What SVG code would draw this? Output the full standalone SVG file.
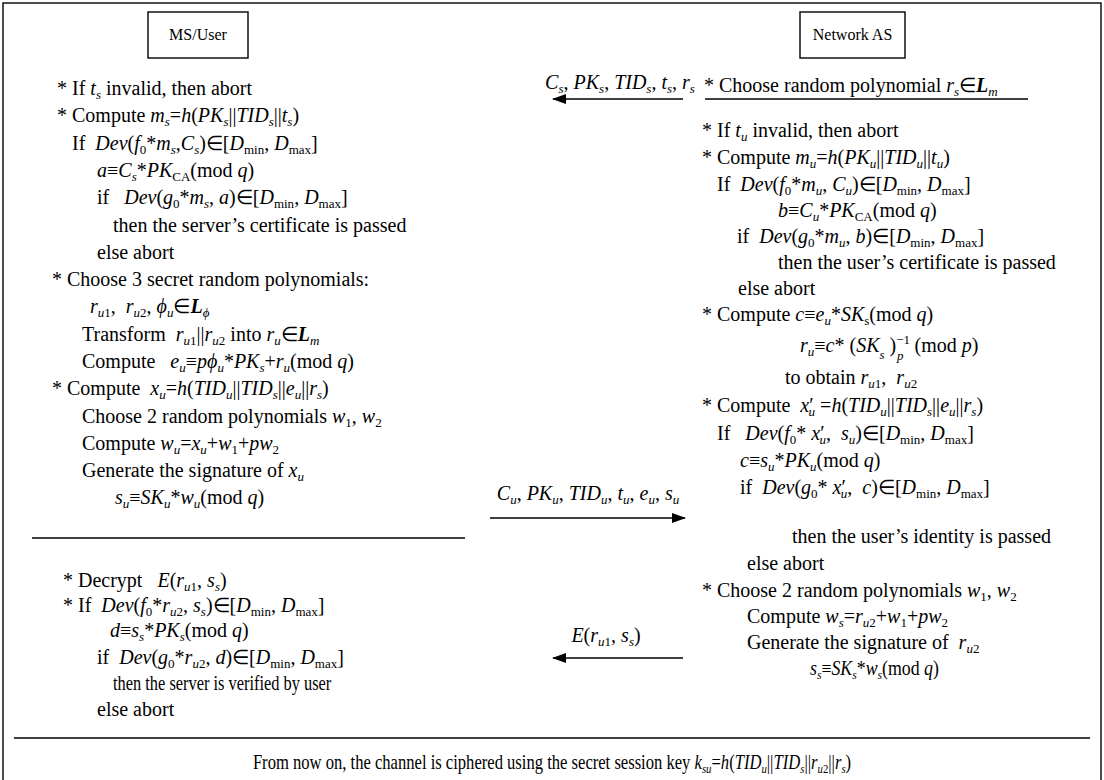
<svg xmlns="http://www.w3.org/2000/svg" width="1104" height="780" viewBox="0 0 1104 780">
<style>
text{font-family:"Liberation Serif","Times New Roman",serif;font-size:20px;fill:#000}
.h{font-size:16px}
.lb{font-size:20px}
.i{font-style:italic}
.bi{font-style:italic;font-weight:bold}
.sb{font-size:13px;baseline-shift:-4px}
.si{font-size:13px;baseline-shift:-4px;font-style:italic}
.sp{font-size:13px;baseline-shift:8px}
.ln{stroke:#000;stroke-width:1.4;fill:none}
.box{stroke:#000;stroke-width:1.4;fill:#fff}
</style>
<defs>
<marker id="ah" markerWidth="14" markerHeight="10" refX="13" refY="5" orient="auto" markerUnits="userSpaceOnUse">
<path d="M0,0 L14,5 L0,10 Z" fill="#000"/>
</marker>
</defs>
<rect x="3" y="3" width="1098" height="790" class="ln"/>

<g id="ms-user">
<rect x="148" y="12" width="100" height="46" class="box"/>
<text class="h" x="198" y="40" text-anchor="middle">MS/User</text>
</g>

<g id="network-as">
<rect x="800" y="12" width="105" height="46" class="box"/>
<text class="h" x="852.5" y="40" text-anchor="middle">Network AS</text>
</g>

<g id="user-steps">
<text x="57" y="95">* If <tspan class="i">t</tspan><tspan class="si">s</tspan> invalid, then abort</text>
<text x="57" y="122">* Compute <tspan class="i">m</tspan><tspan class="si">s</tspan>=<tspan class="i">h</tspan>(<tspan class="i">PK</tspan><tspan class="si">s</tspan>||<tspan class="i">TID</tspan><tspan class="si">s</tspan>||<tspan class="i">t</tspan><tspan class="si">s</tspan>)</text>
<text x="72" y="150">If&#160; <tspan class="i">Dev</tspan>(<tspan class="i">f</tspan><tspan class="sb">0</tspan>*<tspan class="i">m</tspan><tspan class="si">s</tspan>,<tspan class="i">C</tspan><tspan class="si">s</tspan>)∈[<tspan class="i">D</tspan><tspan class="sb">min</tspan>, <tspan class="i">D</tspan><tspan class="sb">max</tspan>]</text>
<text x="97" y="177"><tspan class="i">a</tspan>≡<tspan class="i">C</tspan><tspan class="si">s</tspan>*<tspan class="i">PK</tspan><tspan class="sb">CA</tspan>(mod <tspan class="i">q</tspan>)</text>
<text x="97" y="204">if&#160;&#160; <tspan class="i">Dev</tspan>(<tspan class="i">g</tspan><tspan class="sb">0</tspan>*<tspan class="i">m</tspan><tspan class="si">s</tspan>, <tspan class="i">a</tspan>)∈[<tspan class="i">D</tspan><tspan class="sb">min</tspan>, <tspan class="i">D</tspan><tspan class="sb">max</tspan>]</text>
<text x="113" y="232">then the server’s certificate is passed</text>
<text x="97" y="259">else abort</text>
<text x="52" y="286">* Choose 3 secret random polynomials:</text>
<text x="90" y="313"><tspan class="i">r</tspan><tspan class="sb"><tspan class="i">u</tspan>1</tspan>,&#160; <tspan class="i">r</tspan><tspan class="sb"><tspan class="i">u</tspan>2</tspan>, <tspan class="i">ϕ</tspan><tspan class="si">u</tspan>∈<tspan class="bi">L</tspan><tspan class="si">ϕ</tspan></text>
<text x="82" y="341">Transform&#160; <tspan class="i">r</tspan><tspan class="sb"><tspan class="i">u</tspan>1</tspan>||<tspan class="i">r</tspan><tspan class="sb"><tspan class="i">u</tspan>2</tspan> into <tspan class="i">r</tspan><tspan class="si">u</tspan>∈<tspan class="bi">L</tspan><tspan class="si">m</tspan></text>
<text x="82" y="368">Compute&#160;&#160; <tspan class="i">e</tspan><tspan class="si">u</tspan>≡<tspan class="i">pϕ</tspan><tspan class="si">u</tspan>*<tspan class="i">PK</tspan><tspan class="si">s</tspan>+<tspan class="i">r</tspan><tspan class="si">u</tspan>(mod <tspan class="i">q</tspan>)</text>
<text x="52" y="395">* Compute&#160; <tspan class="i">x</tspan><tspan class="si">u</tspan>=<tspan class="i">h</tspan>(<tspan class="i">TID</tspan><tspan class="si">u</tspan>||<tspan class="i">TID</tspan><tspan class="si">s</tspan>||<tspan class="i">e</tspan><tspan class="si">u</tspan>||<tspan class="i">r</tspan><tspan class="si">s</tspan>)</text>
<text x="82" y="423">Choose 2 random polynomials <tspan class="i">w</tspan><tspan class="sb">1</tspan>, <tspan class="i">w</tspan><tspan class="sb">2</tspan></text>
<text x="82" y="450">Compute <tspan class="i">w</tspan><tspan class="si">u</tspan>=<tspan class="i">x</tspan><tspan class="si">u</tspan>+<tspan class="i">w</tspan><tspan class="sb">1</tspan>+<tspan class="i">pw</tspan><tspan class="sb">2</tspan></text>
<text x="82" y="477">Generate the signature of <tspan class="i">x</tspan><tspan class="si">u</tspan></text>
<text x="115" y="504"><tspan class="i">s</tspan><tspan class="si">u</tspan>≡<tspan class="i">SK</tspan><tspan class="si">u</tspan>*<tspan class="i">w</tspan><tspan class="si">u</tspan>(mod <tspan class="i">q</tspan>)</text>
<line x1="32" y1="538" x2="465" y2="538" class="ln"/>
<text x="63" y="587">* Decrypt&#160;&#160; <tspan class="i">E</tspan>(<tspan class="i">r</tspan><tspan class="sb"><tspan class="i">u</tspan>1</tspan>, <tspan class="i">s</tspan><tspan class="si">s</tspan>)</text>
<text x="63" y="612">* If&#160; <tspan class="i">Dev</tspan>(<tspan class="i">f</tspan><tspan class="sb">0</tspan>*<tspan class="i">r</tspan><tspan class="sb"><tspan class="i">u</tspan>2</tspan>, <tspan class="i">s</tspan><tspan class="si">s</tspan>)∈[<tspan class="i">D</tspan><tspan class="sb">min</tspan>, <tspan class="i">D</tspan><tspan class="sb">max</tspan>]</text>
<text x="110" y="637"><tspan class="i">d</tspan>≡<tspan class="i">s</tspan><tspan class="si">s</tspan>*<tspan class="i">PK</tspan><tspan class="si">s</tspan>(mod <tspan class="i">q</tspan>)</text>
<text x="97" y="664">if&#160; <tspan class="i">Dev</tspan>(<tspan class="i">g</tspan><tspan class="sb">0</tspan>*<tspan class="i">r</tspan><tspan class="sb"><tspan class="i">u</tspan>2</tspan>, <tspan class="i">d</tspan>)∈[<tspan class="i">D</tspan><tspan class="sb">min</tspan>, <tspan class="i">D</tspan><tspan class="sb">max</tspan>]</text>
<text transform="translate(113,690) scale(0.82,1)">then the server is verified by user</text>
<text x="97" y="716">else abort</text>
</g>

<g id="as-steps">
<text x="704" y="92">* Choose random polynomial <tspan class="i">r</tspan><tspan class="si">s</tspan>∈<tspan class="bi">L</tspan><tspan class="si">m</tspan></text>
<line x1="705" y1="99" x2="1028" y2="99" class="ln"/>
<text x="702" y="137">* If <tspan class="i">t</tspan><tspan class="si">u</tspan> invalid, then abort</text>
<text x="702" y="164">* Compute <tspan class="i">m</tspan><tspan class="si">u</tspan>=<tspan class="i">h</tspan>(<tspan class="i">PK</tspan><tspan class="si">u</tspan>||<tspan class="i">TID</tspan><tspan class="si">u</tspan>||<tspan class="i">t</tspan><tspan class="si">u</tspan>)</text>
<text x="717" y="191">If&#160; <tspan class="i">Dev</tspan>(<tspan class="i">f</tspan><tspan class="sb">0</tspan>*<tspan class="i">m</tspan><tspan class="si">u</tspan>, <tspan class="i">C</tspan><tspan class="si">u</tspan>)∈[<tspan class="i">D</tspan><tspan class="sb">min</tspan>, <tspan class="i">D</tspan><tspan class="sb">max</tspan>]</text>
<text x="778" y="217"><tspan class="i">b</tspan>≡<tspan class="i">C</tspan><tspan class="si">u</tspan>*<tspan class="i">PK</tspan><tspan class="sb">CA</tspan>(mod <tspan class="i">q</tspan>)</text>
<text x="737" y="243">if&#160; <tspan class="i">Dev</tspan>(<tspan class="i">g</tspan><tspan class="sb">0</tspan>*<tspan class="i">m</tspan><tspan class="si">u</tspan>, <tspan class="i">b</tspan>)∈[<tspan class="i">D</tspan><tspan class="sb">min</tspan>, <tspan class="i">D</tspan><tspan class="sb">max</tspan>]</text>
<text x="778" y="269">then the user’s certificate is passed</text>
<text x="738" y="295">else abort</text>
<text x="702" y="321">* Compute <tspan class="i">c</tspan>≡<tspan class="i">e</tspan><tspan class="si">u</tspan>*<tspan class="i">SK</tspan><tspan class="sb">s</tspan>(mod <tspan class="i">q</tspan>)</text>
<text x="800" y="352"><tspan class="i">r</tspan><tspan class="si">u</tspan>≡<tspan class="i">c</tspan>* (<tspan class="i">SK</tspan><tspan class="si" dy="3">s</tspan><tspan dy="-3"> )</tspan><tspan class="sp">−1</tspan><tspan class="si" dx="-13" dy="4">p</tspan><tspan dx="6" dy="-4"> (mod </tspan><tspan class="i">p</tspan>)</text>
<text x="785" y="384">to obtain <tspan class="i">r</tspan><tspan class="sb"><tspan class="i">u</tspan>1</tspan>,&#160; <tspan class="i">r</tspan><tspan class="sb"><tspan class="i">u</tspan>2</tspan></text>
<text x="702" y="412">* Compute&#160; <tspan class="i">x</tspan>′<tspan class="si" dx="-5">u</tspan> =<tspan class="i">h</tspan>(<tspan class="i">TID</tspan><tspan class="si">u</tspan>||<tspan class="i">TID</tspan><tspan class="si">s</tspan>||<tspan class="i">e</tspan><tspan class="si">u</tspan>||<tspan class="i">r</tspan><tspan class="si">s</tspan>)</text>
<text x="717" y="440">If&#160;&#160; <tspan class="i">Dev</tspan>(<tspan class="i">f</tspan><tspan class="sb">0</tspan>* <tspan class="i">x</tspan>′<tspan class="si" dx="-5">u</tspan>,&#160; <tspan class="i">s</tspan><tspan class="si">u</tspan>)∈[<tspan class="i">D</tspan><tspan class="sb">min</tspan>, <tspan class="i">D</tspan><tspan class="sb">max</tspan>]</text>
<text x="740" y="467"><tspan class="i">c</tspan>≡<tspan class="i">s</tspan><tspan class="si">u</tspan>*<tspan class="i">PK</tspan><tspan class="si">u</tspan>(mod <tspan class="i">q</tspan>)</text>
<text x="740" y="494">if&#160; <tspan class="i">Dev</tspan>(<tspan class="i">g</tspan><tspan class="sb">0</tspan>* <tspan class="i">x</tspan>′<tspan class="si" dx="-5">u</tspan>,&#160; <tspan class="i">c</tspan>)∈[<tspan class="i">D</tspan><tspan class="sb">min</tspan>, <tspan class="i">D</tspan><tspan class="sb">max</tspan>]</text>
<text x="792" y="543">then the user’s identity is passed</text>
<text x="747" y="570">else abort</text>
<text x="702" y="597">* Choose 2 random polynomials <tspan class="i">w</tspan><tspan class="sb">1</tspan>, <tspan class="i">w</tspan><tspan class="sb">2</tspan></text>
<text x="747" y="623">Compute <tspan class="i">w</tspan><tspan class="si">s</tspan>=<tspan class="i">r</tspan><tspan class="sb"><tspan class="i">u</tspan>2</tspan>+<tspan class="i">w</tspan><tspan class="sb">1</tspan>+<tspan class="i">pw</tspan><tspan class="sb">2</tspan></text>
<text x="747" y="649">Generate the signature of&#160; <tspan class="i">r</tspan><tspan class="sb"><tspan class="i">u</tspan>2</tspan></text>
<text transform="translate(810,675) scale(0.89,1)"><tspan class="i">s</tspan><tspan class="si">s</tspan>≡<tspan class="i">SK</tspan><tspan class="si">s</tspan>*<tspan class="i">w</tspan><tspan class="si">s</tspan>(mod <tspan class="i">q</tspan>)</text>
</g>

<g id="connectors">
<line x1="683" y1="99" x2="553" y2="99" class="ln" marker-end="url(#ah)"/>
<text class="lb" x="620" y="89" text-anchor="middle"><tspan class="i">C</tspan><tspan class="si">s</tspan>, <tspan class="i">PK</tspan><tspan class="si">s</tspan>, <tspan class="i">TID</tspan><tspan class="si">s</tspan>, <tspan class="i">t</tspan><tspan class="si">s</tspan>, <tspan class="i">r</tspan><tspan class="si">s</tspan></text>
<line x1="490" y1="518" x2="685" y2="518" class="ln" marker-end="url(#ah)"/>
<text class="lb" x="588" y="500" text-anchor="middle"><tspan class="i">C</tspan><tspan class="si">u</tspan>, <tspan class="i">PK</tspan><tspan class="si">u</tspan>, <tspan class="i">TID</tspan><tspan class="si">u</tspan>, <tspan class="i">t</tspan><tspan class="si">u</tspan>, <tspan class="i">e</tspan><tspan class="si">u</tspan>, <tspan class="i">s</tspan><tspan class="si">u</tspan></text>
<line x1="683" y1="658" x2="553" y2="658" class="ln" marker-end="url(#ah)"/>
<text class="lb" x="606" y="642" text-anchor="middle"><tspan class="i">E</tspan>(<tspan class="i">r</tspan><tspan class="sb"><tspan class="i">u</tspan>1</tspan>, <tspan class="i">s</tspan><tspan class="si">s</tspan>)</text>
</g>

<g id="footer">
<line x1="14" y1="738" x2="1090" y2="738" class="ln"/>
<text transform="translate(552,769) scale(0.83,1)" text-anchor="middle">From now on, the channel is ciphered using the secret session key <tspan class="i">k</tspan><tspan class="si">su</tspan>=<tspan class="i">h</tspan>(<tspan class="i">TID</tspan><tspan class="si">u</tspan>||<tspan class="i">TID</tspan><tspan class="si">s</tspan>||<tspan class="i">r</tspan><tspan class="sb"><tspan class="i">u</tspan>2</tspan>||<tspan class="i">r</tspan><tspan class="si">s</tspan>)</text>
</g>
</svg>
